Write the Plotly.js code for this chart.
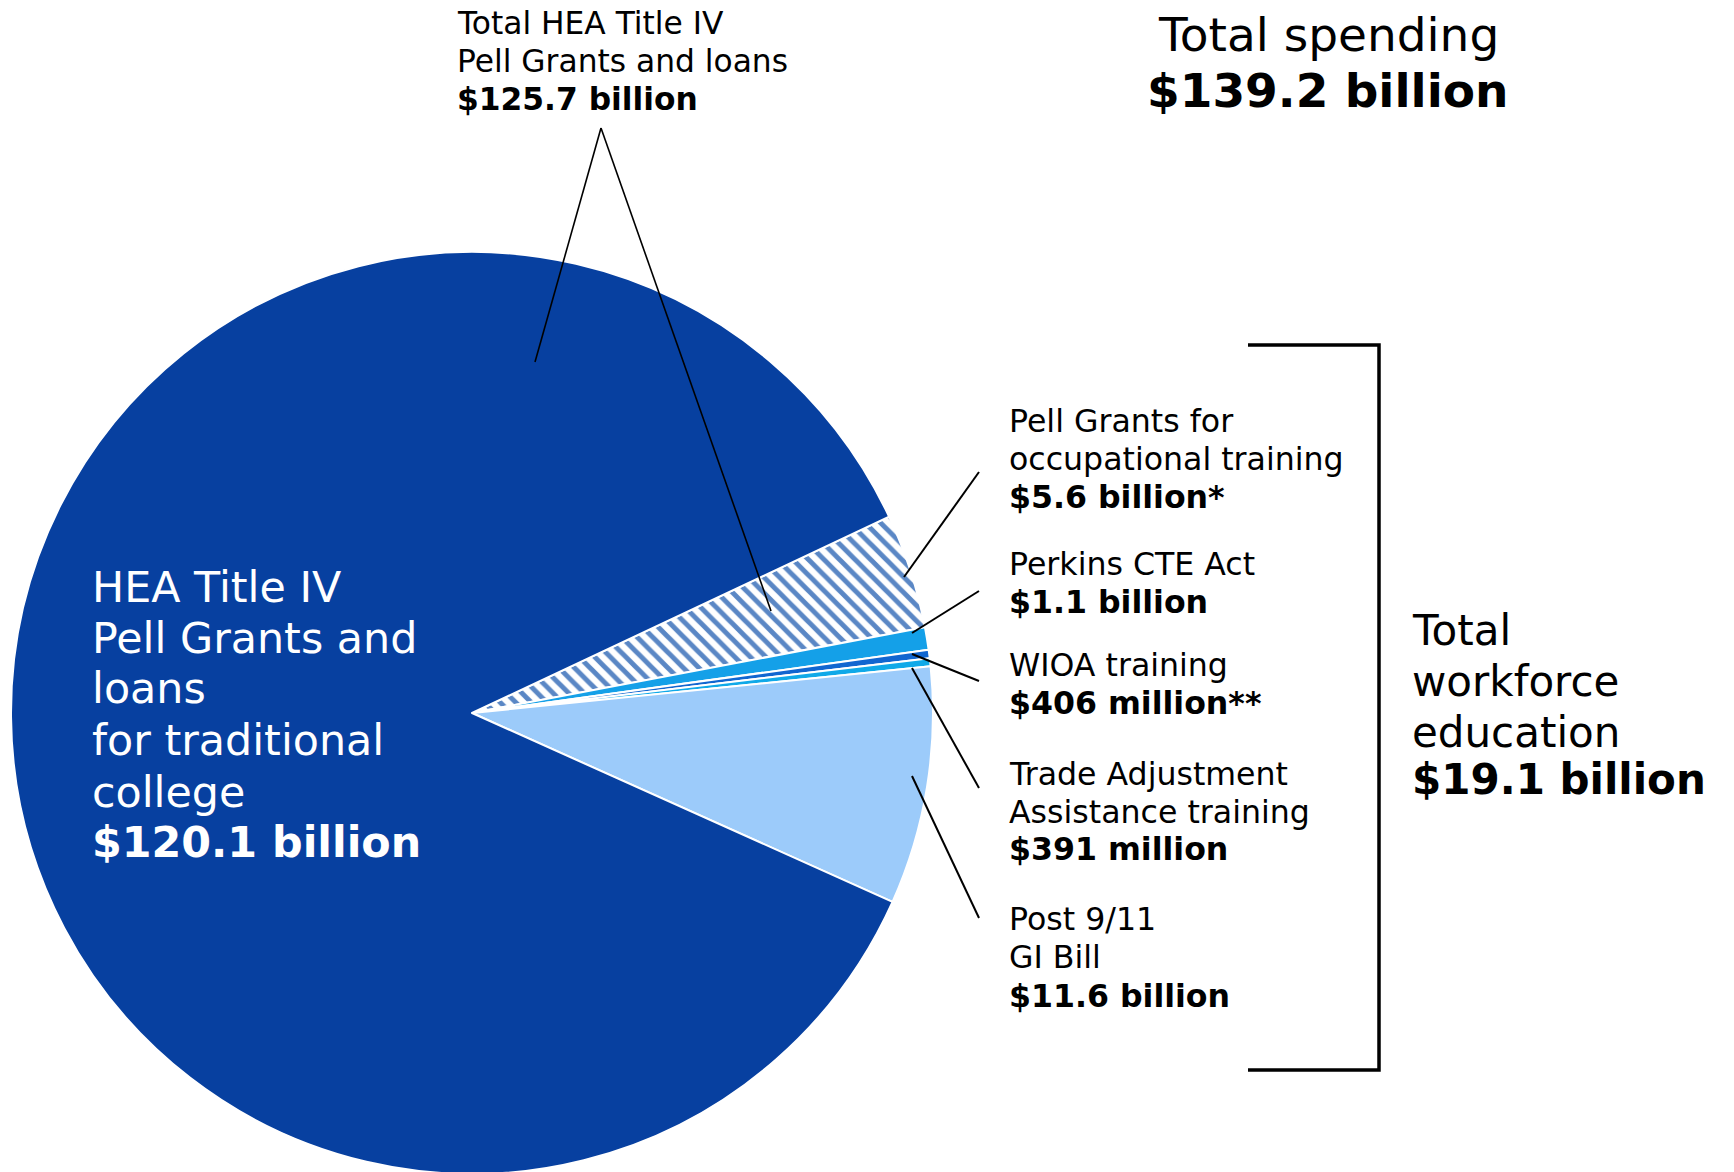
<!DOCTYPE html>
<html>
<head>
<meta charset="utf-8">
<script src="https://cdn.plot.ly/plotly-3.0.1.min.js"></script>
<style>
  html, body { margin: 0; padding: 0; overflow: hidden; background: #ffffff; }
  #chart { width: 1734px; height: 1180px; }
</style>
</head>
<body>
<div id="chart"></div>
<script>
// ---- Data ----
const categories = [
  'Pell Grants for occupational training',
  'Perkins CTE Act',
  'WIOA training',
  'Trade Adjustment Assistance training',
  'Post 9/11 GI Bill',
  'HEA Title IV Pell Grants and loans for traditional college'
];
const valuesBillion = [5.6, 1.1, 0.406, 0.391, 11.6, 120.1];
const amountLabels = ['$5.6 billion*', '$1.1 billion', '$406 million**', '$391 million', '$11.6 billion', '$120.1 billion'];
const labelLines = [
  ['Pell Grants for', 'occupational training'],
  ['Perkins CTE Act'],
  ['WIOA training'],
  ['Trade Adjustment', 'Assistance training'],
  ['Post 9/11', 'GI Bill'],
  ['HEA Title IV', 'Pell Grants and', 'loans', 'for traditional', 'college']
];
const sliceColors = ['#ffffff', '#14a0e8', '#1166d0', '#10a9e8', '#9ccbfa', '#0740a0'];
const hatchShapes = ['\\', '', '', '', '', ''];
const totalHeaLines = ['Total HEA Title IV', 'Pell Grants and loans'];
const totalHeaAmount = '$125.7 billion';
const totalSpendingLines = ['Total spending'];
const totalSpendingAmount = '$139.2 billion';
const workforceLines = ['Total', 'workforce', 'education'];
const workforceAmount = '$19.1 billion';

// ---- Layout helpers (pixel -> paper) ----
const W = 1734, H = 1180;
const px = x => x / W;
const py = y => 1 - y / H;
const FONT = 'DejaVu Sans, Verdana, sans-serif';
const PAD = 3; // annotation inner padding compensation

const annotations = [];
function addLine(text, x, baseline, size, color, bold, anchor) {
  const a = anchor || 'left';
  annotations.push({
    xref: 'paper', yref: 'paper',
    x: px(a === 'left' ? x - PAD : x), y: py(baseline - 0.346 * size),
    xanchor: a, yanchor: 'middle',
    showarrow: false,
    text: bold ? '<b>' + text + '</b>' : text,
    font: { family: FONT, size: size, color: color }
  });
}
function addBlock(lines, amount, x, baselines, size, color, anchor) {
  lines.forEach((t, i) => addLine(t, x, baselines[i], size, color, false, anchor));
  addLine(amount, x, baselines[lines.length], size, color, true, anchor);
}

// top label
addBlock(totalHeaLines, totalHeaAmount, 458, [34, 72, 110], 31.3, '#000');
// total spending
addBlock(totalSpendingLines, totalSpendingAmount, 1328, [51, 107], 47, '#000', 'center');
// label inside big slice
addBlock(labelLines[5], amountLabels[5], 93, [602, 653, 703, 755, 807, 857], 42.8, '#ffffff');
// right-hand labels
const rightBaselines = [
  [432, 470, 508],
  [575, 613],
  [676, 714],
  [785, 823, 860],
  [930, 968, 1007]
];
for (let i = 0; i < 5; i++) {
  addBlock(labelLines[i], amountLabels[i], 1010, rightBaselines[i], 31.6, '#000');
}
// total workforce
addBlock(workforceLines, workforceAmount, 1413, [645, 696, 747, 794], 42, '#000');

// ---- leader lines and bracket ----
const shapes = [];
function seg(x0, y0, x1, y1, w) {
  shapes.push({ type: 'line', xref: 'paper', yref: 'paper',
    x0: px(x0), y0: py(y0), x1: px(x1), y1: py(y1),
    line: { color: '#000', width: w } });
}
seg(601, 128, 535, 362, 1.6);
seg(601, 128, 771, 611, 1.6);
seg(979, 472, 904, 577, 2);
seg(979, 591, 912, 633, 2);
seg(979, 681, 912, 654, 2);
seg(979, 788, 912, 668, 2);
seg(979, 918, 912, 776, 2);
shapes.push({ type: 'path', xref: 'paper', yref: 'paper',
  path: 'M ' + px(1248) + ',' + py(345) + ' L ' + px(1379) + ',' + py(345) +
        ' L ' + px(1379) + ',' + py(1070) + ' L ' + px(1248) + ',' + py(1070),
  line: { color: '#000', width: 3.5 } });

// ---- pie ----
const trace = {
  type: 'pie',
  labels: categories,
  values: valuesBillion,
  sort: false,
  direction: 'clockwise',
  rotation: 64.8,
  textinfo: 'none',
  hoverinfo: 'label+value',
  showlegend: false,
  marker: {
    colors: sliceColors,
    line: { color: '#ffffff', width: 2 },
    pattern: { shape: hatchShapes, fgcolor: '#5a87c5', bgcolor: '#ffffff', size: 11, solidity: 0.45, fillmode: 'replace' }
  },
  domain: { x: [px(11), px(933)], y: [py(1174), py(252)] }
};

const layout = {
  width: W, height: H,
  margin: { l: 0, r: 0, t: 0, b: 0 },
  paper_bgcolor: '#ffffff',
  plot_bgcolor: '#ffffff',
  font: { family: FONT },
  showlegend: false,
  annotations: annotations,
  shapes: shapes
};

Plotly.newPlot('chart', [trace], layout, { displayModeBar: false, staticPlot: true, typesetMath: false });
</script>
</body>
</html>
